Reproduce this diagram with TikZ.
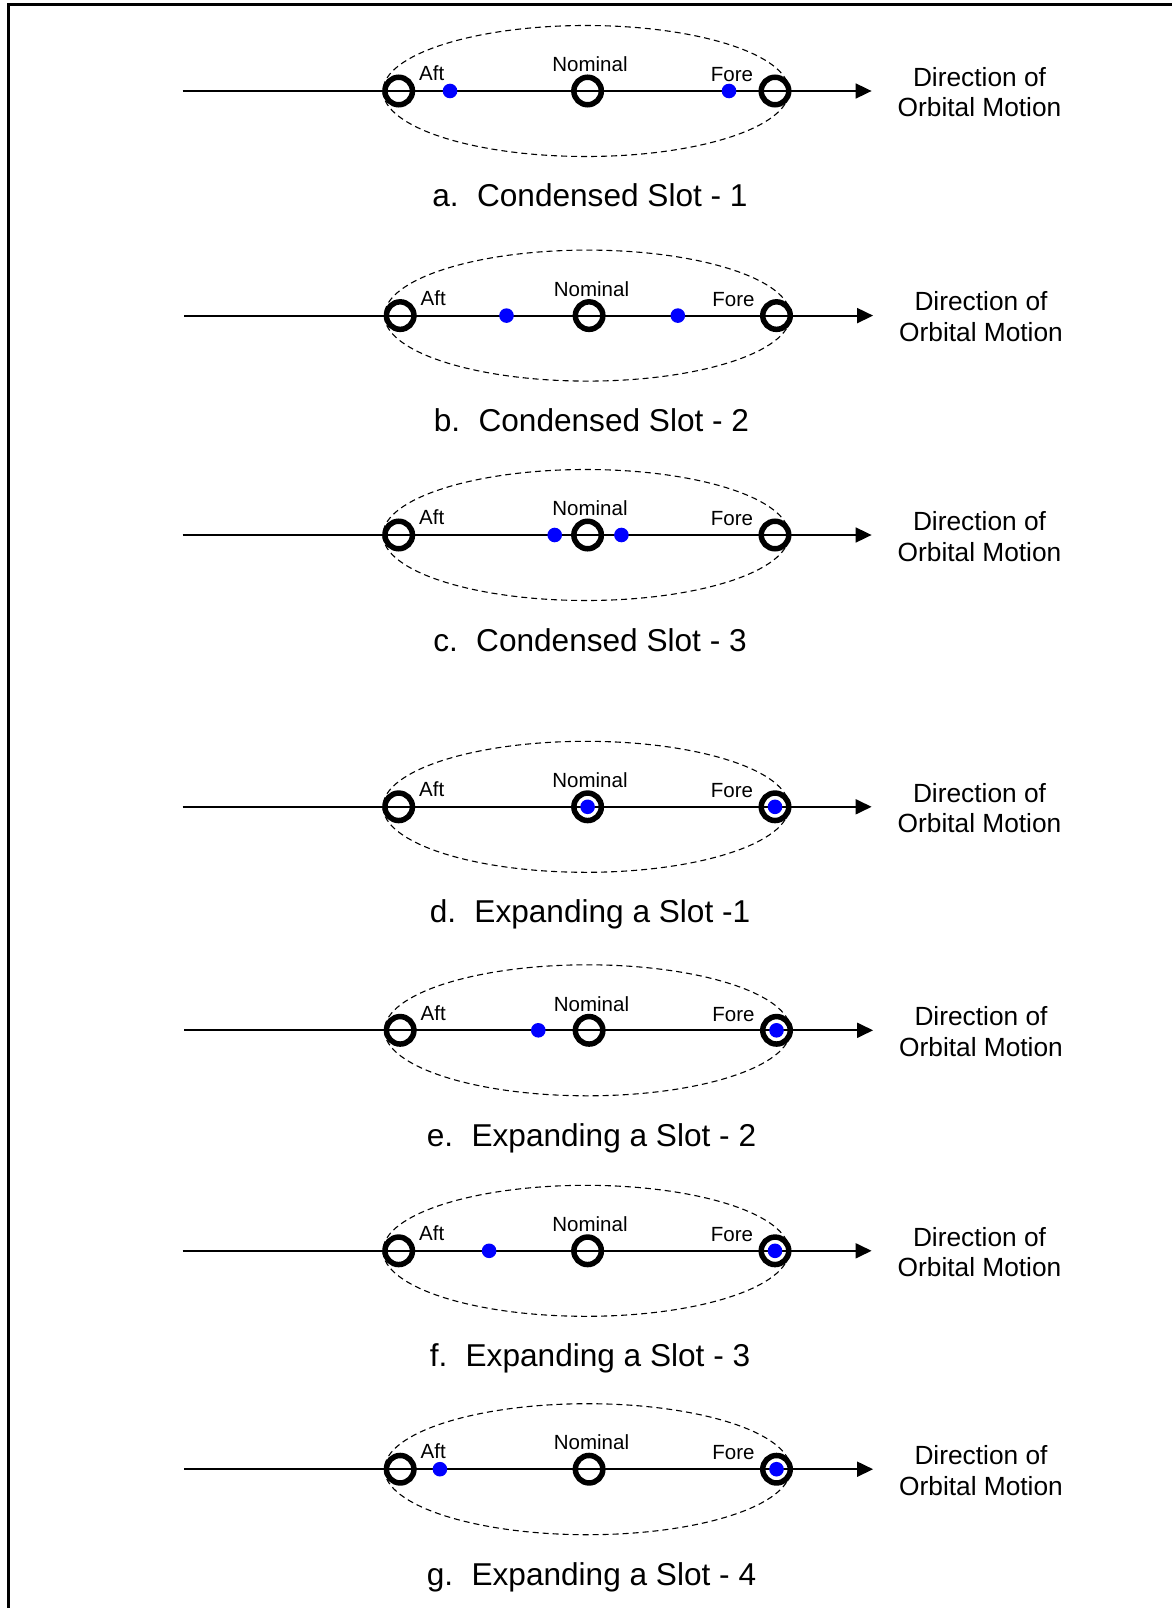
\documentclass[tikz,border=0pt]{standalone}
\usepackage{fontspec}
\setmainfont{Liberation Sans}
\usetikzlibrary{arrows.meta,shapes.geometric}
\tikzset{
  slotcirc/.style={circle, draw=black, line width=5.5pt, minimum size=27.5pt, inner sep=0pt},
  bluedot/.style={circle, fill=blue, minimum size=14.6pt, inner sep=0pt},
  slotellipse/.style={ellipse, draw=black, line width=1.1pt, dash pattern=on 6pt off 4pt, minimum width=406pt, minimum height=131pt, inner sep=0pt},
  orbit/.style={line width=1.8pt, -{Triangle[length=16pt,width=15pt]}},
  smalllbl/.style={font=\fontsize{20.5}{24}\selectfont, inner sep=0pt, anchor=base},
  dirlbl/.style={font=\fontsize{26.3}{30.8}\selectfont, align=center, inner sep=0pt, anchor=base},
  caplbl/.style={font=\fontsize{31.6}{36}\selectfont, inner sep=0pt, anchor=base},
  frameline/.style={line width=2.7pt}
}
\newcommand\slotpanel[6]{%
\begin{scope}[shift={(#3,#2)}]
  \node[slotellipse] (#1-ell) at (586,0) {};
  \coordinate (#1-start) at (182.5,0);
  \coordinate (#1-end) at (871.6,0);
  \draw[orbit] (#1-start) -- (#1-end);
  \node[slotcirc] (#1-aft) at (398.7,0) {};
  \node[slotcirc] (#1-nom) at (587.6,0) {};
  \node[slotcirc] (#1-fore) at (775,0) {};
  \node[bluedot] (#1-d1) at (#4,0) {};
  \node[bluedot] (#1-d2) at (#5,0) {};
  \node[smalllbl] (#1-aftlbl) at (431.7,-10.3) {Aft};
  \node[smalllbl] (#1-nomlbl) at (590,-19.3) {Nominal};
  \node[smalllbl] (#1-forelbl) at (732,-9.3) {Fore};
  \node[dirlbl] (#1-dir) at (979.5,26) {Direction of\\Orbital Motion};
  \node[caplbl] (#1-cap) at (590,116) {#6};
\end{scope}}
\begin{document}
\begin{tikzpicture}[x=1pt,y=-1pt]
\useasboundingbox (0,0) rectangle (1171,1608);
\draw[frameline] (8.7,1610) -- (8.7,4.7) -- (1175,4.7);
\slotpanel{a}{91}{0}{450}{729}{a.\hspace{0.58em}Condensed Slot - 1}
\slotpanel{b}{315.6}{1.5}{505}{676.3}{b.\hspace{0.58em}Condensed Slot - 2}
\slotpanel{c}{535}{0}{554.7}{621.4}{c.\hspace{0.58em}Condensed Slot - 3}
\slotpanel{d}{806.8}{0}{587.6}{775}{d.\hspace{0.58em}Expanding a Slot -1}
\slotpanel{e}{1030.3}{1.5}{536.8}{775}{e.\hspace{0.58em}Expanding a Slot - 2}
\slotpanel{f}{1250.8}{0}{489.1}{775}{f.\hspace{0.58em}Expanding a Slot - 3}
\slotpanel{g}{1469.2}{1.5}{438.4}{775}{g.\hspace{0.58em}Expanding a Slot - 4}
\end{tikzpicture}
\end{document}
